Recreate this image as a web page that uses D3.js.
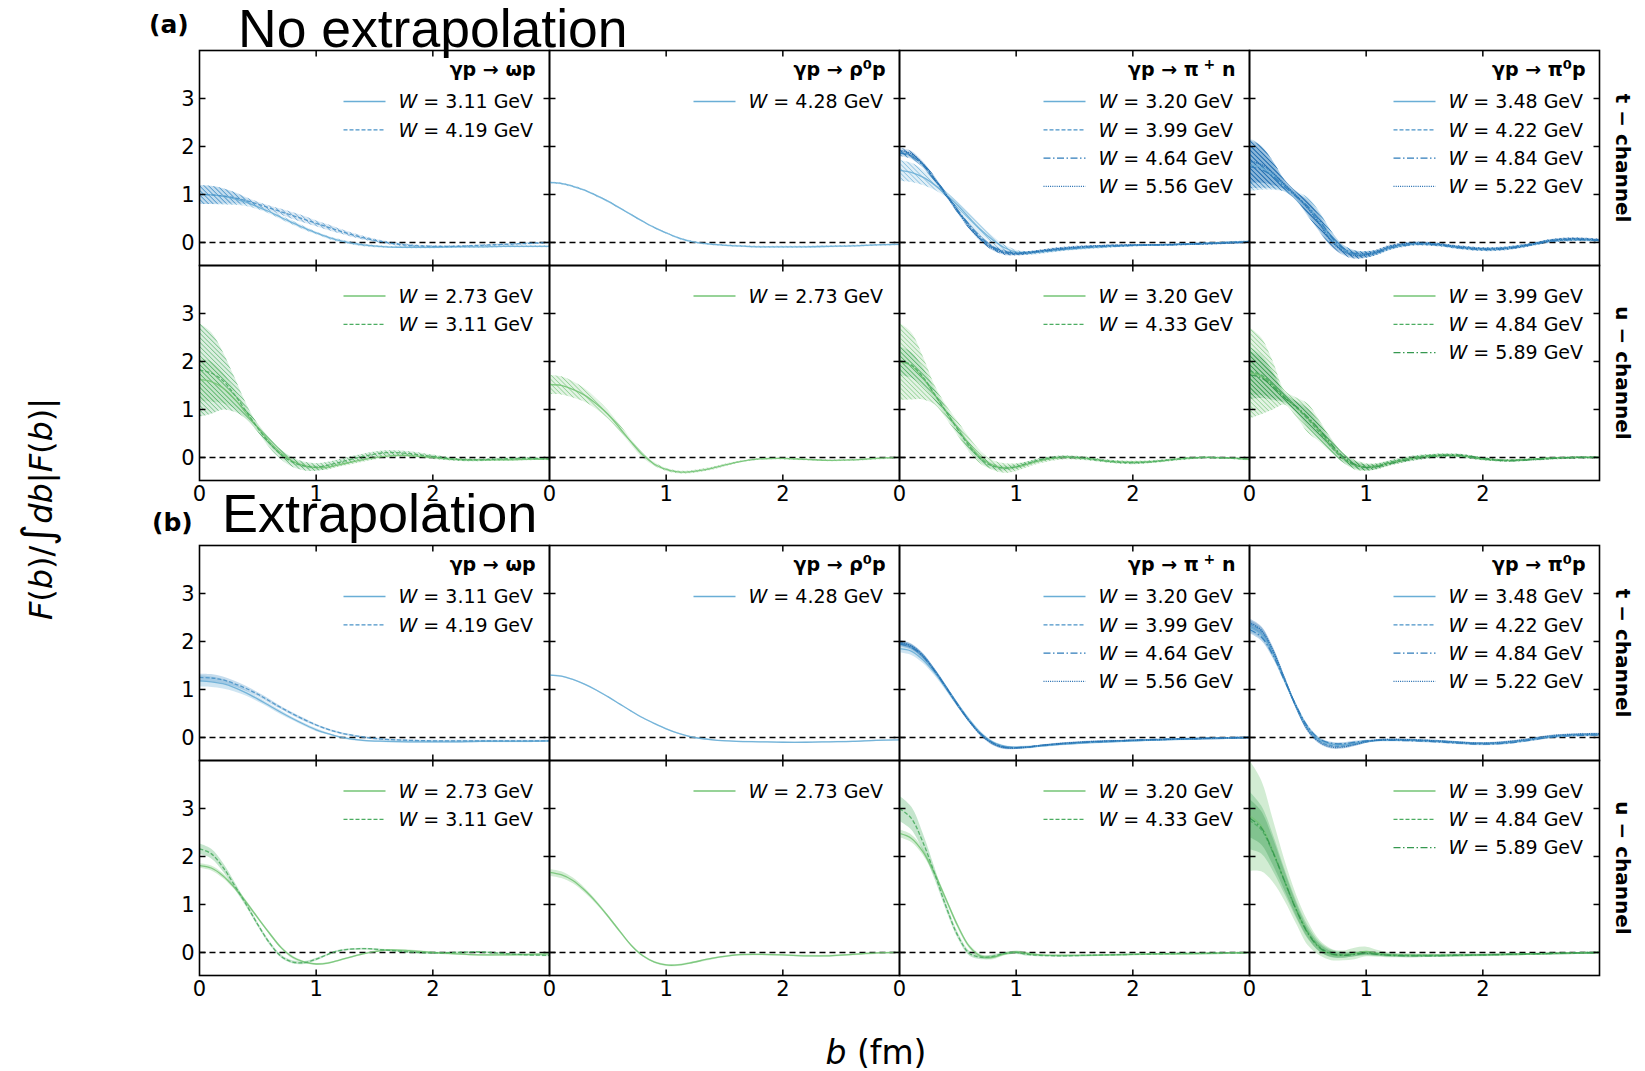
<!DOCTYPE html>
<html>
<head>
<meta charset="utf-8">
<script src="https://cdn.jsdelivr.net/npm/d3@7"></script>
<style>
  html, body { margin: 0; padding: 0; background: #fff; }
  svg { display: block; }
  text { font-family: "DejaVu Sans", sans-serif; fill: #000; }
</style>
</head>
<body>
<svg id="chart" width="1645" height="1071"></svg>
<script>
// impact parameter grid (fm)
const bGrid = [0,0.1,0.2,0.3,0.4,0.5,0.6,0.7,0.8,0.9,1.0,1.1,1.2,1.4,1.6,1.8,2.0,2.2,2.4,2.6,2.8,3.0];

const xTicks = [0, 1, 2];
const yTicks = [0, 1, 2, 3];
const processes = ["ω", "ρ", "π+", "π0"];
const channels = ["t − channel", "u − channel"];
const sectionTitles = ["No extrapolation", "Extrapolation"];
const sectionTags = ["(a)", "(b)"];

// ---------- (a) no extrapolation, t-channel ----------
const omegaT_a_311 = [1.00,0.99,0.96,0.91,0.84,0.74,0.64,0.52,0.41,0.30,0.20,0.11,0.04,-0.05,-0.09,-0.10,-0.10,-0.09,-0.09,-0.08,-0.08,-0.08];
const omegaT_a_311_err = [0.20,0.19,0.17,0.13,0.08,0.05,0.04,0.04,0.04,0.04,0.03,0.03,0.03,0.03,0.02,0.02,0.02,0.02,0.02,0.02,0.02,0.02];
const omegaT_a_419 = [1.00,0.99,0.97,0.93,0.87,0.80,0.72,0.64,0.56,0.48,0.40,0.32,0.24,0.10,0.00,-0.06,-0.08,-0.08,-0.06,-0.04,-0.02,0.00];
const omegaT_a_419_err = [0.20,0.19,0.16,0.12,0.07,0.05,0.05,0.06,0.07,0.07,0.06,0.06,0.05,0.04,0.03,0.03,0.02,0.02,0.02,0.02,0.02,0.02];

const rhoT_a_428 = [1.25,1.23,1.17,1.09,0.98,0.86,0.72,0.58,0.44,0.31,0.20,0.10,0.03,-0.04,-0.07,-0.09,-0.09,-0.09,-0.08,-0.07,-0.05,-0.04];
const rhoT_a_428_err = [0.02,0.02,0.02,0.02,0.02,0.02,0.02,0.02,0.02,0.02,0.02,0.02,0.02,0.02,0.02,0.02,0.02,0.02,0.02,0.02,0.02,0.02];

const piPlusT_a_320 = [1.50,1.46,1.36,1.20,1.00,0.77,0.51,0.26,0.05,-0.11,-0.20,-0.22,-0.20,-0.15,-0.11,-0.08,-0.06,-0.05,-0.04,-0.02,0.00,0.02];
const piPlusT_a_320_err = [0.22,0.20,0.16,0.10,0.06,0.08,0.10,0.10,0.08,0.06,0.05,0.04,0.04,0.03,0.03,0.03,0.02,0.02,0.02,0.02,0.02,0.02];
const piPlusT_a_399 = [1.88,1.82,1.62,1.32,0.99,0.65,0.33,0.07,-0.12,-0.21,-0.23,-0.21,-0.18,-0.13,-0.09,-0.07,-0.06,-0.05,-0.04,-0.02,0.00,0.02];
const piPlusT_a_399_err = [0.06,0.06,0.05,0.05,0.04,0.04,0.04,0.04,0.04,0.04,0.03,0.03,0.03,0.03,0.02,0.02,0.02,0.02,0.02,0.02,0.02,0.02];
const piPlusT_a_464 = [1.86,1.80,1.61,1.32,1.00,0.67,0.36,0.10,-0.09,-0.19,-0.22,-0.21,-0.19,-0.14,-0.10,-0.08,-0.06,-0.05,-0.04,-0.02,-0.01,0.01];
const piPlusT_a_464_err = [0.06,0.06,0.05,0.05,0.04,0.04,0.04,0.04,0.04,0.04,0.03,0.03,0.03,0.03,0.02,0.02,0.02,0.02,0.02,0.02,0.02,0.02];
const piPlusT_a_556 = [1.92,1.85,1.64,1.33,0.99,0.64,0.31,0.05,-0.13,-0.22,-0.24,-0.22,-0.18,-0.12,-0.08,-0.06,-0.05,-0.05,-0.04,-0.03,-0.01,0.01];
const piPlusT_a_556_err = [0.06,0.06,0.05,0.05,0.04,0.04,0.04,0.04,0.04,0.04,0.03,0.03,0.03,0.03,0.02,0.02,0.02,0.02,0.02,0.02,0.02,0.02];

const piZeroT_a_348 = [1.62,1.56,1.40,1.18,0.97,0.74,0.44,0.10,-0.14,-0.24,-0.25,-0.20,-0.11,-0.03,-0.04,-0.10,-0.14,-0.12,-0.05,0.04,0.06,0.04];
const piZeroT_a_348_err = [0.55,0.46,0.30,0.12,0.10,0.20,0.20,0.14,0.09,0.08,0.07,0.05,0.04,0.03,0.03,0.03,0.03,0.03,0.03,0.03,0.03,0.03];
const piZeroT_a_422 = [1.68,1.62,1.44,1.20,0.97,0.72,0.40,0.05,-0.16,-0.25,-0.25,-0.19,-0.10,-0.02,-0.04,-0.10,-0.13,-0.11,-0.04,0.05,0.07,0.05];
const piZeroT_a_422_err = [0.45,0.38,0.25,0.10,0.08,0.15,0.16,0.12,0.08,0.07,0.06,0.05,0.04,0.03,0.03,0.03,0.03,0.03,0.03,0.03,0.03,0.03];
const piZeroT_a_484 = [1.58,1.52,1.38,1.16,0.96,0.75,0.46,0.12,-0.12,-0.23,-0.24,-0.20,-0.12,-0.04,-0.05,-0.11,-0.15,-0.13,-0.05,0.03,0.06,0.04];
const piZeroT_a_484_err = [0.45,0.38,0.25,0.10,0.08,0.15,0.16,0.12,0.08,0.07,0.06,0.05,0.04,0.03,0.03,0.03,0.03,0.03,0.03,0.03,0.03,0.03];
const piZeroT_a_522 = [1.70,1.63,1.45,1.21,0.98,0.71,0.38,0.03,-0.18,-0.27,-0.26,-0.19,-0.09,-0.01,-0.03,-0.09,-0.13,-0.12,-0.05,0.05,0.08,0.05];
const piZeroT_a_522_err = [0.45,0.38,0.25,0.10,0.08,0.15,0.16,0.12,0.08,0.07,0.06,0.05,0.04,0.03,0.03,0.03,0.03,0.03,0.03,0.03,0.03,0.03];

// ---------- (a) no extrapolation, u-channel ----------
const omegaU_a_273 = [1.62,1.58,1.45,1.22,0.92,0.62,0.33,0.09,-0.08,-0.17,-0.21,-0.20,-0.15,-0.05,0.03,0.04,0.00,-0.04,-0.05,-0.05,-0.04,-0.03];
const omegaU_a_273_err = [0.45,0.42,0.32,0.20,0.12,0.08,0.08,0.07,0.06,0.05,0.05,0.05,0.04,0.04,0.03,0.03,0.03,0.03,0.02,0.02,0.02,0.02];
const omegaU_a_311 = [1.82,1.76,1.60,1.31,0.96,0.61,0.30,0.06,-0.10,-0.18,-0.20,-0.16,-0.10,0.02,0.10,0.08,0.02,-0.04,-0.05,-0.03,-0.02,-0.03];
const omegaU_a_311_err = [0.97,0.85,0.60,0.36,0.16,0.08,0.10,0.10,0.10,0.09,0.08,0.07,0.07,0.06,0.05,0.05,0.04,0.03,0.03,0.03,0.03,0.03];

const rhoU_a_273 = [1.52,1.50,1.42,1.30,1.12,0.90,0.62,0.32,0.05,-0.14,-0.25,-0.30,-0.30,-0.22,-0.10,-0.03,-0.02,-0.04,-0.06,-0.05,-0.02,0.00];
const rhoU_a_273_err = [0.20,0.19,0.17,0.14,0.11,0.09,0.07,0.06,0.05,0.04,0.03,0.03,0.03,0.03,0.02,0.02,0.02,0.02,0.02,0.02,0.02,0.02];

const piPlusU_a_320 = [2.00,1.91,1.66,1.31,0.95,0.60,0.26,-0.01,-0.16,-0.22,-0.20,-0.14,-0.07,0.00,-0.02,-0.08,-0.10,-0.08,-0.03,0.00,-0.01,-0.04];
const piPlusU_a_320_err = [0.80,0.70,0.45,0.20,0.14,0.15,0.15,0.13,0.10,0.10,0.08,0.06,0.05,0.04,0.04,0.03,0.03,0.03,0.03,0.02,0.02,0.02];
const piPlusU_a_433 = [2.02,1.93,1.68,1.32,0.95,0.58,0.23,-0.04,-0.18,-0.22,-0.19,-0.12,-0.05,0.01,-0.02,-0.08,-0.11,-0.08,-0.03,0.00,-0.01,-0.03];
const piPlusU_a_433_err = [0.30,0.27,0.20,0.12,0.08,0.08,0.08,0.07,0.06,0.05,0.05,0.04,0.04,0.03,0.03,0.03,0.03,0.02,0.02,0.02,0.02,0.02];

const piZeroU_a_399 = [1.76,1.70,1.50,1.25,1.05,0.82,0.55,0.25,0.00,-0.15,-0.20,-0.18,-0.12,-0.02,0.04,0.04,-0.03,-0.06,-0.04,-0.01,0.00,0.00];
const piZeroU_a_399_err = [0.95,0.80,0.50,0.15,0.20,0.30,0.22,0.15,0.10,0.10,0.08,0.06,0.05,0.04,0.04,0.03,0.03,0.03,0.02,0.02,0.02,0.02];
const piZeroU_a_484 = [1.80,1.72,1.52,1.26,1.04,0.80,0.52,0.22,-0.02,-0.16,-0.20,-0.17,-0.10,0.00,0.05,0.03,-0.03,-0.06,-0.04,-0.01,0.00,0.00];
const piZeroU_a_484_err = [0.50,0.42,0.28,0.10,0.12,0.18,0.15,0.10,0.08,0.07,0.06,0.05,0.04,0.04,0.03,0.03,0.03,0.02,0.02,0.02,0.02,0.02];
const piZeroU_a_589 = [1.72,1.66,1.48,1.24,1.06,0.84,0.58,0.28,0.02,-0.14,-0.21,-0.19,-0.13,-0.03,0.03,0.05,-0.02,-0.07,-0.05,-0.02,0.00,0.00];
const piZeroU_a_589_err = [0.50,0.42,0.28,0.10,0.12,0.18,0.15,0.10,0.08,0.07,0.06,0.05,0.04,0.04,0.03,0.03,0.03,0.02,0.02,0.02,0.02,0.02];

// ---------- (b) extrapolation, t-channel ----------
const omegaT_b_311 = [1.18,1.16,1.12,1.04,0.93,0.80,0.66,0.52,0.39,0.27,0.16,0.08,0.01,-0.06,-0.08,-0.09,-0.09,-0.09,-0.08,-0.08,-0.08,-0.07];
const omegaT_b_311_err = [0.12,0.11,0.10,0.08,0.06,0.05,0.04,0.04,0.03,0.03,0.03,0.02,0.02,0.02,0.02,0.02,0.02,0.02,0.02,0.02,0.02,0.02];
const omegaT_b_419 = [1.25,1.24,1.20,1.12,1.02,0.90,0.76,0.62,0.49,0.37,0.26,0.17,0.10,0.01,-0.04,-0.06,-0.07,-0.07,-0.07,-0.07,-0.07,-0.07];
const omegaT_b_419_err = [0.08,0.08,0.07,0.06,0.05,0.04,0.04,0.03,0.03,0.03,0.02,0.02,0.02,0.02,0.02,0.02,0.02,0.02,0.02,0.02,0.02,0.02];

const rhoT_b_428 = [1.30,1.28,1.21,1.11,0.99,0.85,0.70,0.55,0.41,0.29,0.18,0.09,0.02,-0.05,-0.08,-0.09,-0.10,-0.10,-0.09,-0.08,-0.06,-0.05];
const rhoT_b_428_err = [0.015,0.015,0.015,0.015,0.015,0.015,0.015,0.015,0.015,0.015,0.015,0.015,0.015,0.015,0.015,0.015,0.015,0.015,0.015,0.015,0.015,0.015];

const piPlusT_b_320 = [1.85,1.80,1.62,1.35,1.02,0.68,0.36,0.08,-0.10,-0.19,-0.21,-0.20,-0.18,-0.14,-0.11,-0.09,-0.07,-0.05,-0.04,-0.02,-0.01,0.00];
const piPlusT_b_320_err = [0.08,0.08,0.07,0.06,0.05,0.05,0.04,0.04,0.03,0.03,0.03,0.03,0.02,0.02,0.02,0.02,0.02,0.02,0.02,0.02,0.02,0.02];
const piPlusT_b_399 = [1.97,1.90,1.70,1.40,1.05,0.68,0.34,0.06,-0.12,-0.20,-0.21,-0.20,-0.17,-0.13,-0.10,-0.08,-0.06,-0.05,-0.03,-0.02,-0.01,0.00];
const piPlusT_b_399_err = [0.05,0.05,0.05,0.04,0.04,0.04,0.03,0.03,0.03,0.03,0.02,0.02,0.02,0.02,0.02,0.02,0.02,0.02,0.02,0.02,0.02,0.02];
const piPlusT_b_464 = [1.95,1.88,1.69,1.39,1.04,0.68,0.34,0.07,-0.11,-0.20,-0.21,-0.20,-0.17,-0.13,-0.10,-0.08,-0.06,-0.04,-0.03,-0.02,-0.01,0.00];
const piPlusT_b_464_err = [0.05,0.05,0.05,0.04,0.04,0.04,0.03,0.03,0.03,0.03,0.02,0.02,0.02,0.02,0.02,0.02,0.02,0.02,0.02,0.02,0.02,0.02];
const piPlusT_b_556 = [1.98,1.91,1.71,1.40,1.04,0.67,0.33,0.05,-0.13,-0.21,-0.22,-0.20,-0.17,-0.12,-0.09,-0.07,-0.06,-0.05,-0.03,-0.02,-0.01,0.00];
const piPlusT_b_556_err = [0.05,0.05,0.05,0.04,0.04,0.04,0.03,0.03,0.03,0.03,0.02,0.02,0.02,0.02,0.02,0.02,0.02,0.02,0.02,0.02,0.02,0.02];

const piZeroT_b_348 = [2.30,2.15,1.75,1.20,0.65,0.20,-0.05,-0.14,-0.15,-0.12,-0.08,-0.06,-0.05,-0.06,-0.08,-0.11,-0.13,-0.11,-0.05,0.02,0.05,0.06];
const piZeroT_b_348_err = [0.10,0.09,0.08,0.06,0.05,0.04,0.04,0.03,0.03,0.03,0.03,0.02,0.02,0.02,0.02,0.02,0.02,0.02,0.02,0.02,0.02,0.02];
const piZeroT_b_422 = [2.37,2.22,1.80,1.22,0.64,0.17,-0.08,-0.17,-0.18,-0.14,-0.09,-0.06,-0.05,-0.05,-0.07,-0.10,-0.12,-0.10,-0.04,0.03,0.06,0.07];
const piZeroT_b_422_err = [0.08,0.08,0.07,0.05,0.04,0.04,0.03,0.03,0.03,0.03,0.02,0.02,0.02,0.02,0.02,0.02,0.02,0.02,0.02,0.02,0.02,0.02];
const piZeroT_b_484 = [2.25,2.10,1.72,1.19,0.66,0.22,-0.03,-0.12,-0.13,-0.10,-0.07,-0.06,-0.06,-0.07,-0.09,-0.12,-0.14,-0.12,-0.06,0.01,0.04,0.05];
const piZeroT_b_484_err = [0.08,0.08,0.07,0.05,0.04,0.04,0.03,0.03,0.03,0.03,0.02,0.02,0.02,0.02,0.02,0.02,0.02,0.02,0.02,0.02,0.02,0.02];
const piZeroT_b_522 = [2.40,2.24,1.82,1.23,0.63,0.15,-0.10,-0.20,-0.20,-0.15,-0.09,-0.05,-0.04,-0.05,-0.07,-0.10,-0.12,-0.09,-0.03,0.04,0.07,0.08];
const piZeroT_b_522_err = [0.08,0.08,0.07,0.05,0.04,0.04,0.03,0.03,0.03,0.03,0.02,0.02,0.02,0.02,0.02,0.02,0.02,0.02,0.02,0.02,0.02,0.02];

// ---------- (b) extrapolation, u-channel ----------
const omegaU_b_273 = [1.81,1.76,1.60,1.35,1.05,0.72,0.40,0.10,-0.10,-0.20,-0.24,-0.22,-0.16,-0.03,0.05,0.04,0.00,-0.03,-0.05,-0.05,-0.04,-0.03];
const omegaU_b_273_err = [0.05,0.05,0.05,0.04,0.04,0.03,0.03,0.03,0.03,0.02,0.02,0.02,0.02,0.02,0.02,0.02,0.02,0.02,0.02,0.02,0.02,0.02];
const omegaU_b_311 = [2.16,2.06,1.78,1.40,1.00,0.58,0.20,-0.08,-0.20,-0.21,-0.14,-0.04,0.04,0.08,0.05,0.01,-0.01,0.00,0.01,-0.02,-0.05,-0.06];
const omegaU_b_311_err = [0.11,0.10,0.09,0.07,0.05,0.04,0.04,0.03,0.03,0.03,0.03,0.02,0.02,0.02,0.02,0.02,0.02,0.02,0.02,0.02,0.02,0.02];

const rhoU_b_273 = [1.67,1.62,1.50,1.30,1.05,0.76,0.45,0.15,-0.07,-0.20,-0.26,-0.26,-0.22,-0.12,-0.05,-0.04,-0.05,-0.07,-0.07,-0.04,-0.01,0.00];
const rhoU_b_273_err = [0.07,0.07,0.06,0.05,0.04,0.03,0.03,0.02,0.02,0.02,0.02,0.02,0.02,0.02,0.02,0.02,0.02,0.02,0.02,0.02,0.02,0.02];

const piPlusU_b_320 = [2.48,2.38,2.10,1.65,1.10,0.55,0.12,-0.08,-0.10,-0.03,0.01,-0.02,-0.05,-0.06,-0.06,-0.05,-0.04,-0.03,-0.03,-0.02,-0.01,0.00];
const piPlusU_b_320_err = [0.08,0.08,0.07,0.06,0.05,0.05,0.04,0.04,0.04,0.03,0.03,0.03,0.02,0.02,0.02,0.02,0.02,0.02,0.02,0.02,0.02,0.02];
const piPlusU_b_433 = [3.00,2.80,2.30,1.65,0.95,0.35,-0.02,-0.10,-0.08,-0.02,0.00,-0.04,-0.06,-0.07,-0.06,-0.05,-0.04,-0.03,-0.02,-0.02,-0.01,-0.01];
const piPlusU_b_433_err = [0.26,0.24,0.18,0.12,0.08,0.06,0.05,0.04,0.04,0.03,0.03,0.03,0.02,0.02,0.02,0.02,0.02,0.02,0.02,0.02,0.02,0.02];

const piZeroU_b_399 = [2.85,2.64,2.12,1.50,0.90,0.40,0.10,-0.04,-0.06,-0.02,0.02,-0.02,-0.05,-0.06,-0.06,-0.06,-0.05,-0.04,-0.03,-0.02,-0.01,0.00];
const piZeroU_b_399_err = [1.15,0.95,0.65,0.42,0.30,0.25,0.16,0.12,0.10,0.12,0.10,0.07,0.05,0.04,0.03,0.03,0.03,0.03,0.02,0.02,0.02,0.02];
const piZeroU_b_484 = [2.75,2.56,2.08,1.48,0.90,0.42,0.12,-0.02,-0.05,-0.03,-0.01,-0.03,-0.05,-0.06,-0.06,-0.05,-0.05,-0.04,-0.03,-0.02,-0.01,0.00];
const piZeroU_b_484_err = [0.60,0.50,0.38,0.26,0.18,0.14,0.10,0.08,0.06,0.05,0.04,0.04,0.03,0.03,0.03,0.03,0.02,0.02,0.02,0.02,0.02,0.02];
const piZeroU_b_589 = [2.80,2.60,2.10,1.49,0.89,0.40,0.10,-0.03,-0.06,-0.04,-0.02,-0.04,-0.06,-0.07,-0.07,-0.06,-0.05,-0.04,-0.03,-0.02,-0.01,0.00];
const piZeroU_b_589_err = [0.40,0.35,0.28,0.20,0.14,0.10,0.08,0.06,0.05,0.04,0.04,0.03,0.03,0.03,0.02,0.02,0.02,0.02,0.02,0.02,0.02,0.02];

// ---------- panel table ----------
const S = (W, mean, err, style) => ({ W, mean, err, style });
const panelRows = [
  [ // (a) t
    [S("3.11", omegaT_a_311, omegaT_a_311_err, "solid"), S("4.19", omegaT_a_419, omegaT_a_419_err, "dashed")],
    [S("4.28", rhoT_a_428, rhoT_a_428_err, "solid")],
    [S("3.20", piPlusT_a_320, piPlusT_a_320_err, "solid"), S("3.99", piPlusT_a_399, piPlusT_a_399_err, "dashed"),
     S("4.64", piPlusT_a_464, piPlusT_a_464_err, "dashdot"), S("5.56", piPlusT_a_556, piPlusT_a_556_err, "dotted")],
    [S("3.48", piZeroT_a_348, piZeroT_a_348_err, "solid"), S("4.22", piZeroT_a_422, piZeroT_a_422_err, "dashed"),
     S("4.84", piZeroT_a_484, piZeroT_a_484_err, "dashdot"), S("5.22", piZeroT_a_522, piZeroT_a_522_err, "dotted")]
  ],
  [ // (a) u
    [S("2.73", omegaU_a_273, omegaU_a_273_err, "solid"), S("3.11", omegaU_a_311, omegaU_a_311_err, "dashed")],
    [S("2.73", rhoU_a_273, rhoU_a_273_err, "solid")],
    [S("3.20", piPlusU_a_320, piPlusU_a_320_err, "solid"), S("4.33", piPlusU_a_433, piPlusU_a_433_err, "dashed")],
    [S("3.99", piZeroU_a_399, piZeroU_a_399_err, "solid"), S("4.84", piZeroU_a_484, piZeroU_a_484_err, "dashed"),
     S("5.89", piZeroU_a_589, piZeroU_a_589_err, "dashdot")]
  ],
  [ // (b) t
    [S("3.11", omegaT_b_311, omegaT_b_311_err, "solid"), S("4.19", omegaT_b_419, omegaT_b_419_err, "dashed")],
    [S("4.28", rhoT_b_428, rhoT_b_428_err, "solid")],
    [S("3.20", piPlusT_b_320, piPlusT_b_320_err, "solid"), S("3.99", piPlusT_b_399, piPlusT_b_399_err, "dashed"),
     S("4.64", piPlusT_b_464, piPlusT_b_464_err, "dashdot"), S("5.56", piPlusT_b_556, piPlusT_b_556_err, "dotted")],
    [S("3.48", piZeroT_b_348, piZeroT_b_348_err, "solid"), S("4.22", piZeroT_b_422, piZeroT_b_422_err, "dashed"),
     S("4.84", piZeroT_b_484, piZeroT_b_484_err, "dashdot"), S("5.22", piZeroT_b_522, piZeroT_b_522_err, "dotted")]
  ],
  [ // (b) u
    [S("2.73", omegaU_b_273, omegaU_b_273_err, "solid"), S("3.11", omegaU_b_311, omegaU_b_311_err, "dashed")],
    [S("2.73", rhoU_b_273, rhoU_b_273_err, "solid")],
    [S("3.20", piPlusU_b_320, piPlusU_b_320_err, "solid"), S("4.33", piPlusU_b_433, piPlusU_b_433_err, "dashed")],
    [S("3.99", piZeroU_b_399, piZeroU_b_399_err, "solid"), S("4.84", piZeroU_b_484, piZeroU_b_484_err, "dashed"),
     S("5.89", piZeroU_b_589, piZeroU_b_589_err, "dashdot")]
  ]
];

// ---------- layout ----------
const colX = [199.5, 549.5, 899.5, 1249.5];
const rowY = [50.5, 265.5, 545.5, 760.5];
const PW = 350, PH = 215;
const blues = ["#6aaed6", "#4a93c8", "#2f7cba", "#1f69ad"];
const greens = ["#74c476", "#4cad62", "#35984f", "#23843f"];
const dashes = { solid: null, dashed: "4,2", dashdot: "7,2.5,1.5,2.5", dotted: "1,1.2" };

const svg = d3.select("#chart");
const defs = svg.append("defs");

const x = d3.scaleLinear().domain([0, 3]).range([0, PW]);
const y = d3.scaleLinear().domain([-0.48, 4.0]).range([PH, 0]);

// diagonal hatch patterns for the uncertainty bands
function hatchId(color) { return "hatch" + color.slice(1); }
[...blues, ...greens].forEach(c => {
  const p = defs.append("pattern").attr("id", hatchId(c))
    .attr("patternUnits", "userSpaceOnUse").attr("width", 3.2).attr("height", 3.2)
    .attr("patternTransform", "rotate(-45)");
  p.append("rect").attr("width", 3.2).attr("height", 3.2).attr("fill", c).attr("fill-opacity", 0.2);
  p.append("line").attr("x1", 0).attr("y1", 0).attr("x2", 0).attr("y2", 3.2)
    .attr("stroke", c).attr("stroke-width", 1.2).attr("stroke-opacity", 0.9);
});

const line = d3.line().x((d, i) => x(bGrid[i])).y(d => y(d)).curve(d3.curveCatmullRom.alpha(0.5));
const area = d3.area().x((d, i) => x(bGrid[i]))
  .y0(d => y(d[0] - d[1])).y1(d => y(d[0] + d[1])).curve(d3.curveCatmullRom.alpha(0.5));

function titleText(sel, k) {
  sel.append("tspan").text("γp → ");
  if (k === 0) { sel.append("tspan").text("ωp"); }
  else if (k === 1) {
    sel.append("tspan").text("ρ");
    sel.append("tspan").attr("font-size", 13).attr("dy", -7).text("0");
    sel.append("tspan").attr("dy", 7).text("p");
  } else if (k === 2) {
    sel.append("tspan").text("π");
    sel.append("tspan").attr("font-size", 14).attr("dy", -7).text(" +");
    sel.append("tspan").attr("dy", 7).text(" n");
  } else {
    sel.append("tspan").text("π");
    sel.append("tspan").attr("font-size", 13).attr("dy", -7).text("0");
    sel.append("tspan").attr("dy", 7).text("p");
  }
}

panelRows.forEach((row, r) => {
  const extrap = r >= 2;
  const isT = r % 2 === 0;
  const palette = isT ? blues : greens;
  row.forEach((series, c) => {
    const g = svg.append("g").attr("transform", `translate(${colX[c]},${rowY[r]})`);
    const clipId = `clip-${r}-${c}`;
    defs.append("clipPath").attr("id", clipId).append("rect").attr("width", PW).attr("height", PH);

    const n = series.length;
    const colorOf = i => palette[n === 1 ? 0 : i];

    const plot = g.append("g").attr("clip-path", `url(#${clipId})`);
    // bands
    series.forEach((s, i) => {
      const pts = s.mean.map((m, k) => [m, s.err[k]]);
      plot.append("path").attr("d", area(pts))
        .attr("fill", extrap ? colorOf(i) : `url(#${hatchId(colorOf(i))})`)
        .attr("fill-opacity", extrap ? 0.32 : 1)
        .attr("stroke", "none");
    });
    // zero line
    plot.append("line").attr("x1", 0).attr("x2", PW).attr("y1", y(0)).attr("y2", y(0))
      .attr("stroke", "#000").attr("stroke-width", 1.6).attr("stroke-dasharray", "6,4");
    // central curves
    series.forEach((s, i) => {
      plot.append("path").attr("d", line(s.mean)).attr("fill", "none")
        .attr("stroke", colorOf(i)).attr("stroke-width", 1.3).attr("stroke-opacity", 0.9)
        .attr("stroke-dasharray", dashes[s.style]);
    });

    // frame
    g.append("rect").attr("width", PW).attr("height", PH)
      .attr("fill", "none").attr("stroke", "#000").attr("stroke-width", 1.6);

    // inward ticks on all four sides
    const tl = 6;
    [1, 2].forEach(t => {
      g.append("line").attr("x1", x(t)).attr("x2", x(t)).attr("y1", PH).attr("y2", PH - tl).attr("stroke", "#000").attr("stroke-width", 1.5);
      g.append("line").attr("x1", x(t)).attr("x2", x(t)).attr("y1", 0).attr("y2", tl).attr("stroke", "#000").attr("stroke-width", 1.5);
    });
    yTicks.forEach(t => {
      g.append("line").attr("x1", 0).attr("x2", tl).attr("y1", y(t)).attr("y2", y(t)).attr("stroke", "#000").attr("stroke-width", 1.5);
      g.append("line").attr("x1", PW).attr("x2", PW - tl).attr("y1", y(t)).attr("y2", y(t)).attr("stroke", "#000").attr("stroke-width", 1.5);
    });

    // tick labels
    if (c === 0) {
      yTicks.forEach(t => {
        g.append("text").attr("x", -5).attr("y", y(t)).attr("dy", "0.36em")
          .attr("text-anchor", "end").attr("font-size", 21).text(t);
      });
    }
    if (!isT) {
      xTicks.forEach(t => {
        g.append("text").attr("x", x(t)).attr("y", PH + 20)
          .attr("text-anchor", "middle").attr("font-size", 21).text(t);
      });
    }

    // legend
    const ly = isT ? 51 : 30.5;
    if (isT) {
      const tt = g.append("text").attr("x", 336).attr("y", 19).attr("dy", "0.36em")
        .attr("text-anchor", "end").attr("font-size", 19).attr("font-weight", "bold");
      titleText(tt, c);
    }
    series.forEach((s, i) => {
      const yy = ly + i * 28.3;
      g.append("line").attr("x1", 144).attr("x2", 186).attr("y1", yy).attr("y2", yy)
        .attr("stroke", colorOf(i)).attr("stroke-width", 1.3)
        .attr("stroke-dasharray", dashes[s.style]);
      const t = g.append("text").attr("x", 199).attr("y", yy).attr("dy", "0.36em").attr("font-size", 19);
      t.append("tspan").attr("font-style", "italic").text("W");
      t.append("tspan").text(` = ${s.W} GeV`);
    });

    // channel label on the right
    if (c === 3) {
      svg.append("text")
        .attr("transform", `translate(1623,${rowY[r] + PH / 2}) rotate(90)`)
        .attr("text-anchor", "middle").attr("dy", "0.36em")
        .attr("font-size", 20).attr("font-weight", "bold")
        .text(isT ? channels[0] : channels[1]);
    }
  });
});

// section headers
svg.append("text").attr("x", 149).attr("y", 33).attr("font-size", 25).attr("font-weight", "bold").text(sectionTags[0]);
svg.append("text").attr("x", 152).attr("y", 531).attr("font-size", 25).attr("font-weight", "bold").text(sectionTags[1]);
svg.append("text").attr("x", 238).attr("y", 47).attr("font-size", 53.5)
  .style("font-family", "'Liberation Sans', Arial, sans-serif").text(sectionTitles[0]);
svg.append("text").attr("x", 222).attr("y", 532).attr("font-size", 54)
  .style("font-family", "'Liberation Sans', Arial, sans-serif").text(sectionTitles[1]);

// axis titles
const yl = svg.append("text").attr("transform", "translate(40,509) rotate(-90)")
  .attr("text-anchor", "middle").attr("dy", "0.36em").attr("font-size", 32);
[["F", true, 32], ["(", false, 32], ["b", true, 32], [")/", false, 32], ["∫", false, 42], ["db", true, 32], ["|", false, 32],
 ["F", true, 32], ["(", false, 32], ["b", true, 32], [")|", false, 32]].forEach(([s, it, fs]) => {
  const ts = yl.append("tspan").attr("font-size", fs).text(s);
  if (it) ts.attr("font-style", "italic");
});
const xl = svg.append("text").attr("x", 876).attr("y", 1052).attr("dy", "0.36em")
  .attr("text-anchor", "middle").attr("font-size", 33);
xl.append("tspan").attr("font-style", "italic").text("b");
xl.append("tspan").text(" (fm)");
</script>
</body>
</html>
